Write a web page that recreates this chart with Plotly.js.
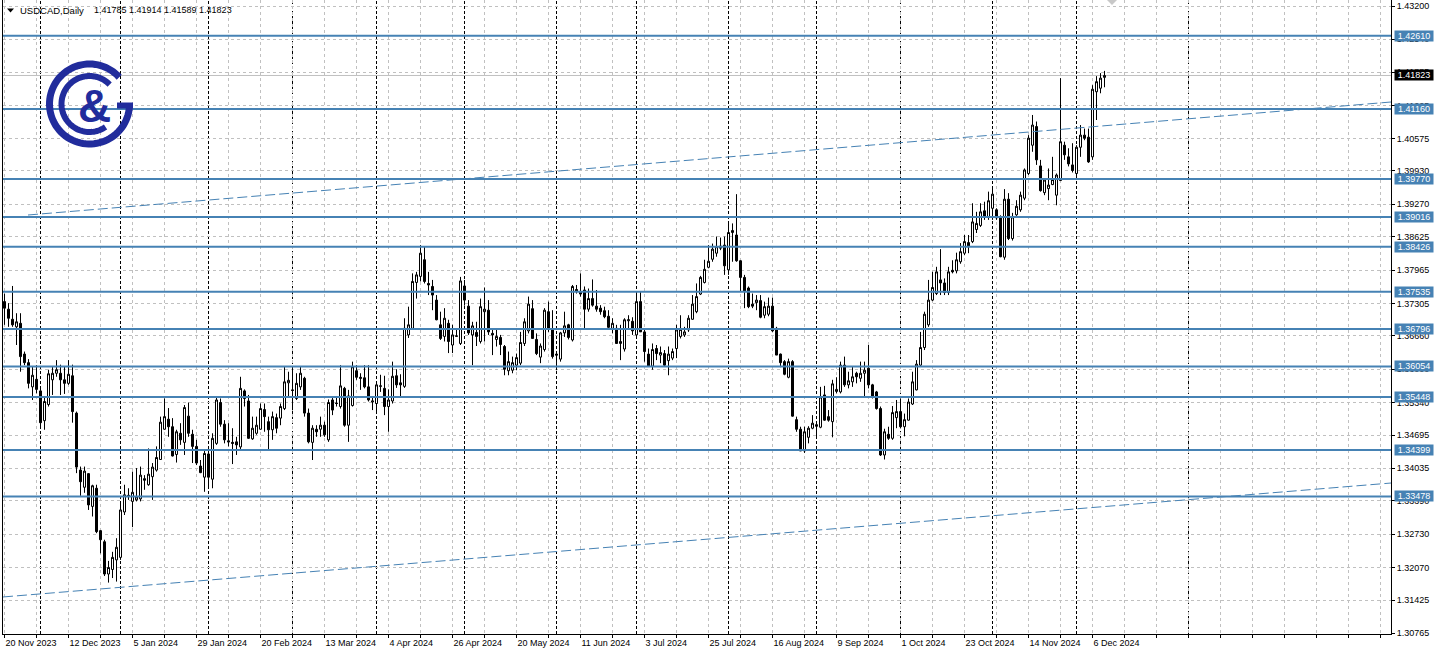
<!DOCTYPE html>
<html><head><meta charset="utf-8">
<script src="https://cdn.plot.ly/plotly-3.0.1.min.js"></script>
<style>html,body{margin:0;padding:0;background:#fff;}#chart{width:1437px;height:657px;}</style>
</head><body><div id="chart"></div>
<script>
// ---- data (USDCAD daily, bar 0 = 20 Nov 2023, bar 275 = 11 Dec 2024) ----
const openP = [
1.3734,1.3719,1.3699,1.3684,1.3691,1.3630,1.3613,1.3565,1.3580,1.3557,
1.3498,1.3530,1.3579,1.3592,1.3592,1.3579,1.3572,1.3587,1.3513,1.3400,
1.3366,1.3393,1.3328,1.3364,1.3280,1.3258,1.3194,1.3203,1.3222,1.3227,
1.3317,1.3350,1.3338,1.3341,1.3343,1.3383,1.3371,1.3387,1.3400,1.3421,
1.3481,1.3501,1.3486,1.3431,1.3473,1.3455,1.3507,1.3471,1.3447,1.3408,
1.3386,1.3432,1.3382,1.3453,1.3534,1.3491,1.3458,1.3455,1.3456,1.3446,
1.3557,1.3537,1.3462,1.3473,1.3481,1.3520,1.3496,1.3480,1.3504,1.3503,
1.3522,1.3573,1.3559,1.3542,1.3565,1.3582,1.3513,1.3455,1.3481,1.3481,
1.3489,1.3460,1.3539,1.3533,1.3526,1.3562,1.3489,1.3528,1.3597,1.3584,
1.3583,1.3565,1.3535,1.3532,1.3566,1.3562,1.3526,1.3537,1.3587,1.3573,
1.3566,1.3668,1.3681,1.3772,1.3784,1.3817,1.3770,1.3764,1.3737,1.3688,
1.3665,1.3691,1.3648,1.3665,1.3651,1.3765,1.3725,1.3668,1.3673,1.3655,
1.3714,1.3717,1.3671,1.3659,1.3663,1.3645,1.3597,1.3598,1.3608,1.3612,
1.3651,1.3676,1.3720,1.3659,1.3624,1.3639,1.3714,1.3679,1.3630,1.3620,
1.3672,1.3688,1.3658,1.3758,1.3754,1.3757,1.3719,1.3740,1.3725,1.3721,
1.3716,1.3705,1.3681,1.3681,1.3651,1.3640,1.3696,1.3695,1.3668,1.3734,
1.3674,1.3630,1.3606,1.3641,1.3628,1.3631,1.3617,1.3622,1.3641,1.3665,
1.3668,1.3678,1.3699,1.3714,1.3749,1.3772,1.3802,1.3818,1.3830,1.3844,
1.3846,1.3797,1.3871,1.3866,1.3815,1.3782,1.3761,1.3729,1.3732,1.3736,
1.3707,1.3709,1.3725,1.3681,1.3630,1.3615,1.3584,1.3615,1.3500,1.3481,
1.3438,1.3465,1.3483,1.3490,1.3485,1.3549,1.3506,1.3496,1.3556,1.3555,
1.3608,1.3569,1.3575,1.3592,1.3582,1.3592,1.3602,1.3569,1.3555,1.3522,
1.3430,1.3471,1.3463,1.3504,1.3516,1.3486,1.3499,1.3531,1.3559,1.3608,
1.3643,1.3688,1.3737,1.3750,1.3777,1.3771,1.3752,1.3796,1.3795,1.3813,
1.3830,1.3851,1.3853,1.3877,1.3885,1.3914,1.3902,1.3919,1.3916,1.3902,
1.3822,1.3937,1.3859,1.3906,1.3916,1.3939,1.3988,1.4044,1.4081,1.4003,
1.3950,1.3958,1.3966,1.3945,1.3974,1.4044,1.4021,1.4005,1.3988,1.4040,
1.4064,1.4060,1.4021,1.4150,1.4157,1.41785];
const highP = [
1.3750,1.3731,1.3765,1.3711,1.3711,1.3635,1.3620,1.3605,1.3608,1.3565,
1.3546,1.3599,1.3605,1.3618,1.3609,1.3605,1.3618,1.3609,1.3516,1.3407,
1.3407,1.3394,1.3371,1.3371,1.3281,1.3262,1.3220,1.3238,1.3265,1.3334,
1.3371,1.3364,1.3397,1.3404,1.3407,1.3390,1.3443,1.3414,1.3447,1.3506,
1.3542,1.3523,1.3503,1.3480,1.3493,1.3529,1.3534,1.3480,1.3460,1.3420,
1.3440,1.3437,1.3473,1.3544,1.3542,1.3499,1.3493,1.3483,1.3466,1.3585,
1.3560,1.3549,1.3506,1.3506,1.3532,1.3532,1.3506,1.3516,1.3512,1.3532,
1.3605,1.3595,1.3605,1.3592,1.3605,1.3585,1.3522,1.3489,1.3489,1.3506,
1.3496,1.3540,1.3546,1.3546,1.3608,1.3565,1.3559,1.3615,1.3608,1.3592,
1.3608,1.3608,1.3546,1.3572,1.3589,1.3587,1.3560,1.3615,1.3600,1.3590,
1.3701,1.3724,1.3790,1.3793,1.3846,1.3843,1.3793,1.3777,1.3747,1.3714,
1.3721,1.3698,1.3688,1.3678,1.3783,1.3777,1.3737,1.3694,1.3694,1.3740,
1.3762,1.3737,1.3678,1.3678,1.3668,1.3648,1.3635,1.3625,1.3631,1.3674,
1.3701,1.3744,1.3737,1.3671,1.3651,1.3721,1.3734,1.3717,1.3635,1.3674,
1.3714,1.3690,1.3767,1.3767,1.3790,1.3764,1.3760,1.3778,1.3757,1.3727,
1.3724,1.3717,1.3701,1.3688,1.3688,1.3701,1.3707,1.3703,1.3754,1.3754,
1.3681,1.3641,1.3651,1.3648,1.3645,1.3638,1.3645,1.3641,1.3688,1.3707,
1.3684,1.3707,1.3747,1.3770,1.3785,1.3817,1.3846,1.3849,1.3863,1.3861,
1.3863,1.3889,1.3889,1.3947,1.3816,1.3787,1.3764,1.3750,1.3747,1.3747,
1.3734,1.3742,1.3742,1.3684,1.3631,1.3618,1.3621,1.3618,1.3506,1.3486,
1.3486,1.3487,1.3509,1.3496,1.3565,1.3567,1.3519,1.3579,1.3584,1.3615,
1.3625,1.3595,1.3605,1.3595,1.3615,1.3615,1.3648,1.3571,1.3557,1.3526,
1.3482,1.3486,1.3527,1.3539,1.3542,1.3512,1.3542,1.3595,1.3618,1.3674,
1.3714,1.3777,1.3793,1.3803,1.3838,1.3780,1.3803,1.3816,1.3831,1.3850,
1.3866,1.3866,1.3929,1.3912,1.3929,1.3932,1.3952,1.3958,1.3919,1.3905,
1.3957,1.3949,1.3910,1.3935,1.3952,1.3998,1.4064,1.4104,1.4091,1.4015,
1.3978,1.3998,1.4021,1.3988,1.4177,1.4051,1.4038,1.4048,1.4044,1.4084,
1.4077,1.4077,1.4163,1.4181,1.4187,1.41914];
const lowP = [
1.3688,1.3684,1.3684,1.3648,1.3595,1.3608,1.3562,1.3539,1.3552,1.3483,
1.3480,1.3526,1.3549,1.3585,1.3549,1.3551,1.3569,1.3494,1.3394,1.3349,
1.3355,1.3321,1.3308,1.3275,1.3235,1.3190,1.3177,1.3186,1.3179,1.3222,
1.3311,1.3341,1.3287,1.3338,1.3338,1.3361,1.3369,1.3341,1.3397,1.3420,
1.3480,1.3466,1.3427,1.3415,1.3450,1.3430,1.3466,1.3414,1.3410,1.3394,
1.3357,1.3367,1.3364,1.3450,1.3486,1.3453,1.3447,1.3412,1.3430,1.3440,
1.3526,1.3462,1.3460,1.3470,1.3480,1.3476,1.3440,1.3460,1.3473,1.3489,
1.3519,1.3545,1.3519,1.3539,1.3559,1.3506,1.3453,1.3420,1.3466,1.3466,
1.3466,1.3456,1.3509,1.3526,1.3522,1.3486,1.3456,1.3526,1.3579,1.3559,
1.3562,1.3536,1.3519,1.3516,1.3555,1.3509,1.3476,1.3532,1.3563,1.3545,
1.3563,1.3662,1.3681,1.3740,1.3774,1.3770,1.3747,1.3717,1.3697,1.3658,
1.3655,1.3632,1.3632,1.3664,1.3648,1.3726,1.3668,1.3608,1.3646,1.3651,
1.3655,1.3668,1.3628,1.3645,1.3628,1.3588,1.3588,1.3592,1.3598,1.3608,
1.3646,1.3671,1.3661,1.3628,1.3612,1.3635,1.3674,1.3621,1.3598,1.3615,
1.3664,1.3659,1.3655,1.3750,1.3744,1.3679,1.3714,1.3724,1.3714,1.3708,
1.3701,1.3681,1.3671,1.3651,1.3618,1.3635,1.3681,1.3668,1.3665,1.3674,
1.3615,1.3605,1.3599,1.3618,1.3612,1.3605,1.3588,1.3618,1.3622,1.3661,
1.3664,1.3674,1.3698,1.3711,1.3747,1.3770,1.3800,1.3813,1.3823,1.3836,
1.3787,1.3787,1.3813,1.3813,1.3754,1.3721,1.3721,1.3721,1.3717,1.3701,
1.3701,1.3705,1.3674,1.3628,1.3604,1.3588,1.3582,1.3506,1.3476,1.3438,
1.3434,1.3453,1.3481,1.3463,1.3483,1.3498,1.3496,1.3465,1.3552,1.3552,
1.3565,1.3562,1.3565,1.3572,1.3575,1.3545,1.3562,1.3542,1.3520,1.3428,
1.3421,1.3460,1.3460,1.3483,1.3483,1.3467,1.3498,1.3529,1.3558,1.3605,
1.3638,1.3684,1.3735,1.3747,1.3747,1.3747,1.3747,1.3790,1.3790,1.3809,
1.3826,1.3830,1.3850,1.3870,1.3882,1.3896,1.3896,1.3896,1.3896,1.3822,
1.3817,1.3856,1.3855,1.3904,1.3912,1.3935,1.3985,1.4031,1.4005,1.3952,
1.3945,1.3935,1.3965,1.3925,1.3974,1.4015,1.4002,1.3990,1.3980,1.4021,
1.4054,1.4009,1.4015,1.4094,1.4147,1.41589];
const closeP = [
1.3721,1.3701,1.3688,1.3694,1.3625,1.3613,1.3572,1.3588,1.3560,1.3494,
1.3536,1.3591,1.3592,1.3599,1.3579,1.3572,1.3590,1.3516,1.3406,1.3377,
1.3398,1.3331,1.3369,1.3278,1.3262,1.3194,1.3207,1.3227,1.3247,1.3321,
1.3351,1.3348,1.3356,1.3347,1.3390,1.3380,1.3392,1.3406,1.3425,1.3495,
1.3506,1.3486,1.3428,1.3476,1.3460,1.3524,1.3473,1.3447,1.3414,1.3395,
1.3433,1.3386,1.3463,1.3539,1.3491,1.3460,1.3456,1.3453,1.3450,1.3562,
1.3542,1.3463,1.3483,1.3489,1.3522,1.3506,1.3480,1.3506,1.3483,1.3526,
1.3575,1.3578,1.3558,1.3572,1.3592,1.3513,1.3456,1.3483,1.3476,1.3489,
1.3470,1.3534,1.3519,1.3532,1.3567,1.3489,1.3547,1.3605,1.3584,1.3582,
1.3565,1.3539,1.3537,1.3569,1.3567,1.3526,1.3539,1.3586,1.3569,1.3569,
1.3681,1.3688,1.3774,1.3787,1.3830,1.3774,1.3767,1.3747,1.3698,1.3661,
1.3701,1.3655,1.3668,1.3666,1.3775,1.3737,1.3672,1.3686,1.3665,1.3724,
1.3719,1.3674,1.3668,1.3665,1.3649,1.3600,1.3615,1.3613,1.3623,1.3653,
1.3694,1.3729,1.3661,1.3631,1.3646,1.3717,1.3679,1.3625,1.3628,1.3672,
1.3686,1.3663,1.3764,1.3754,1.3749,1.3719,1.3740,1.3727,1.3719,1.3714,
1.3704,1.3683,1.3691,1.3651,1.3655,1.3698,1.3698,1.3676,1.3734,1.3674,
1.3635,1.3606,1.3639,1.3631,1.3633,1.3608,1.3630,1.3635,1.3678,1.3679,
1.3674,1.3701,1.3729,1.3744,1.3782,1.3798,1.3814,1.3838,1.3843,1.3840,
1.3805,1.3871,1.3875,1.3815,1.3782,1.3754,1.3724,1.3725,1.3737,1.3703,
1.3724,1.3725,1.3676,1.3628,1.3613,1.3590,1.3615,1.3507,1.3481,1.3438,
1.3476,1.3483,1.3493,1.3487,1.3545,1.3499,1.3499,1.3571,1.3560,1.3608,
1.3569,1.3577,1.3585,1.3585,1.3592,1.3598,1.3569,1.3547,1.3522,1.3430,
1.3476,1.3463,1.3514,1.3516,1.3486,1.3500,1.3535,1.3575,1.3610,1.3643,
1.3709,1.3737,1.3762,1.3793,1.3771,1.3752,1.3793,1.3793,1.3817,1.3833,
1.3853,1.3843,1.3892,1.3889,1.3912,1.3901,1.3934,1.3947,1.3900,1.3823,
1.3937,1.3859,1.3902,1.3923,1.3945,1.3995,1.4058,1.4084,1.4015,1.3954,
1.3975,1.3965,1.3976,1.3985,1.4051,1.4025,1.4007,1.3994,1.4040,1.4064,
1.4058,1.4011,1.4155,1.4170,1.4177,1.41823];

// x-axis date labels (every 16 bars, starting at bar 0)
const dateLabels = ['20 Nov 2023','12 Dec 2023','5 Jan 2024','29 Jan 2024','20 Feb 2024','13 Mar 2024',
  '4 Apr 2024','26 Apr 2024','20 May 2024','11 Jun 2024','3 Jul 2024','25 Jul 2024','16 Aug 2024',
  '9 Sep 2024','1 Oct 2024','23 Oct 2024','14 Nov 2024','6 Dec 2024'];
// first bar of each month (period separators)
const monthStartBars = [9,29,51,72,93,115,138,158,181,203,224,247,268,296];
// price scale labels
const priceTicks = [1.43200,1.42540,1.41885,1.41225,1.40575,1.39930,1.39270,1.38625,1.37965,1.37305,
  1.36660,1.36000,1.35340,1.34695,1.34035,1.33390,1.32730,1.32070,1.31425,1.30765];
// horizontal support / resistance levels
const levels = [1.42610,1.41160,1.39770,1.39016,1.38426,1.37535,1.36796,1.36054,1.35448,1.34399,1.33478];
const lastPrice = 1.41823;
const headerSymbol = 'USDCAD,Daily';
const headerValues = '1.41785 1.41914 1.41589 1.41823';
// trend channel lines: [bar, price] endpoints
const trendUpper = [[5.875,1.39057],[346.625,1.41297]];
const trendLower = [[-0.375,1.31485],[346.625,1.33744]];

// ---- layout helpers ----
const PX0=3, PX1=1391, PY0=0, PY1=634;
const px = v => (v-PX0)/(PX1-PX0);
const py = v => (PY1-v)/(PY1-PY0);
const FONT = 'Liberation Sans, Arial, sans-serif';
const BLUE = '#4682B4';
const NAVY = '#212c9c';

const xs = openP.map((_, i) => i);

const gridVals = [], gridText = [];
for (let b = 0; b <= 344; b += 8) {
  gridVals.push(b);
  gridText.push(b % 16 === 0 && b/16 < dateLabels.length ? dateLabels[b/16] : '');
}

const shapes = [];
monthStartBars.forEach(b => shapes.push({type:'line', xref:'x', yref:'paper', x0:b, x1:b, y0:0, y1:1,
  line:{color:'#000', width:1, dash:'3px,2px'}, layer:'below'}));
shapes.push({type:'line', xref:'paper', yref:'y', x0:0, x1:1, y0:lastPrice, y1:lastPrice,
  line:{color:'#c0c0c0', width:1}, layer:'below'});
levels.forEach(v => shapes.push({type:'line', xref:'paper', yref:'y', x0:0, x1:1, y0:v, y1:v,
  line:{color:BLUE, width:2}, layer:'above'}));
[trendUpper, trendLower].forEach(t => shapes.push({type:'line', xref:'x', yref:'y',
  x0:t[0][0], y0:t[0][1], x1:t[1][0], y1:t[1][1], line:{color:BLUE, width:1, dash:'10px,4px'}, layer:'above'}));

// logo: concentric arcs + crossbar
function arc(cx, cy, r, a0, a1) {
  let s = '';
  const n = 80;
  for (let k = 0; k <= n; k++) {
    const a = (a0 + (a1-a0)*k/n) * Math.PI/180;
    const X = px(cx + r*Math.cos(a)), Y = py(cy - r*Math.sin(a));
    s += (k ? ' L ' : 'M ') + X.toFixed(6) + ',' + Y.toFixed(6);
  }
  return s;
}
shapes.push({type:'path', xref:'paper', yref:'paper', path:arc(89.5,104,40,42,360), line:{color:NAVY, width:7}, layer:'above'});
shapes.push({type:'path', xref:'paper', yref:'paper', path:arc(89.5,104,28,44,305), line:{color:NAVY, width:6}, layer:'above'});
shapes.push({type:'rect', xref:'paper', yref:'paper', x0:px(117), x1:px(133), y0:py(108.5), y1:py(102.5),
  fillcolor:NAVY, line:{width:0}, layer:'above'});
// header triangle and chart-shift marker
shapes.push({type:'path', xref:'paper', yref:'paper',
  path:`M ${px(7)},${py(8.5)} L ${px(14)},${py(8.5)} L ${px(10.5)},${py(12.5)} Z`, fillcolor:'#000', line:{width:0}, layer:'above'});
shapes.push({type:'path', xref:'paper', yref:'paper',
  path:`M ${px(1107)},${py(0)} L ${px(1117)},${py(0)} L ${px(1112)},${py(5)} Z`, fillcolor:'#c8c8c8', line:{width:0}, layer:'above'});

const annotations = [];
levels.forEach(v => annotations.push({xref:'paper', yref:'y', x:1, y:v, xanchor:'left', yanchor:'middle', xshift:3,
  text:v.toFixed(5), showarrow:false, font:{family:FONT, size:9, color:'#fff'}, bgcolor:BLUE, width:38, height:10, borderpad:0}));
annotations.push({xref:'paper', yref:'y', x:1, y:lastPrice, xanchor:'left', yanchor:'middle', xshift:3,
  text:lastPrice.toFixed(5), showarrow:false, font:{family:FONT, size:9, color:'#fff'}, bgcolor:'#000', width:38, height:10, borderpad:0});
annotations.push({xref:'paper', yref:'paper', x:px(18), y:py(10), xanchor:'left', yanchor:'middle',
  text:headerSymbol, showarrow:false, font:{family:FONT, size:9.5, color:'#000'}});
annotations.push({xref:'paper', yref:'paper', x:px(92), y:py(10), xanchor:'left', yanchor:'middle',
  text:headerValues, showarrow:false, font:{family:FONT, size:9, color:'#000'}});
annotations.push({xref:'paper', yref:'paper', x:px(94), y:py(106), xanchor:'center', yanchor:'middle',
  text:'<b>&amp;</b>', showarrow:false, font:{family:FONT, size:46, color:NAVY}});

const trace = {
  type:'candlestick', x:xs, open:openP, high:highP, low:lowP, close:closeP,
  increasing:{line:{color:'#000', width:1}, fillcolor:'#fff'},
  decreasing:{line:{color:'#000', width:1}, fillcolor:'#000'},
  whiskerwidth:0, hoverinfo:'skip', showlegend:false
};

const layout = {
  width:1437, height:657,
  margin:{l:PX0, r:1437-PX1, t:PY0, b:657-PY1, pad:0},
  paper_bgcolor:'#fff', plot_bgcolor:'#fff', showlegend:false,
  boxgap:0.5, boxgroupgap:0,
  xaxis:{range:[-0.375, 346.625], tickmode:'array', tickvals:gridVals, ticktext:gridText,
    showgrid:true, gridcolor:'#c0c0c0', gridwidth:1, griddash:'3px,3px', zeroline:false,
    showline:true, linecolor:'#000', linewidth:1, ticks:'outside', ticklen:3, tickcolor:'#000',
    ticklabelposition:'outside right', tickfont:{family:FONT, size:9, color:'#000'},
    rangeslider:{visible:false}, fixedrange:true, automargin:false},
  yaxis:{side:'right', range:[1.30751, 1.43319], tickmode:'array', tickvals:priceTicks,
    ticktext:priceTicks.map(v => v.toFixed(5)), showgrid:true, gridcolor:'#c0c0c0', gridwidth:1,
    griddash:'3px,3px', zeroline:false, showline:true, mirror:true, linecolor:'#000', linewidth:1,
    ticks:'outside', ticklen:3, tickcolor:'#000', tickfont:{family:FONT, size:9, color:'#000'},
    fixedrange:true, automargin:false},
  shapes:shapes, annotations:annotations
};

Plotly.newPlot('chart', [trace], layout, {displayModeBar:false, staticPlot:true});
</script></body></html>
